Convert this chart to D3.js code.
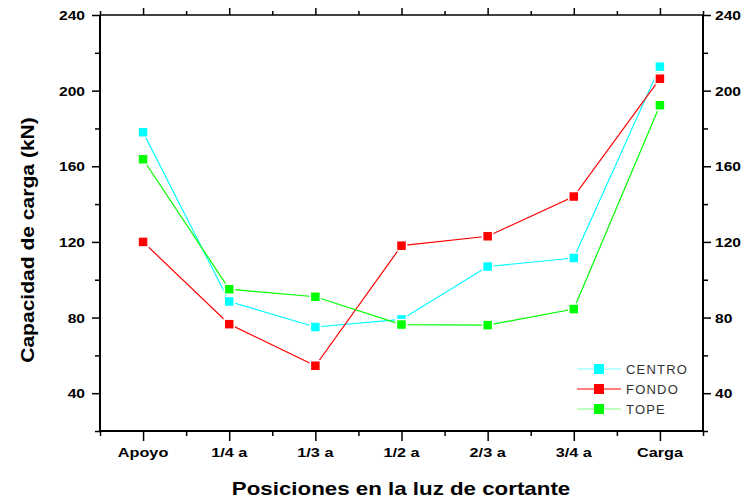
<!DOCTYPE html>
<html><head><meta charset="utf-8">
<script src="https://cdn.jsdelivr.net/npm/d3@7"></script>
<style>body{margin:0;background:#fff}svg{display:block;font-family:"Liberation Sans",Arial,sans-serif}</style>
</head><body><svg id="c" width="747" height="500"></svg>
<script>
const categories = ["Apoyo","1/4 a","1/3 a","1/2 a","2/3 a","3/4 a","Carga"];
const centro = [178, 88.5, 75, 79, 107, 111.5, 212.7];
const fondo  = [120, 76.5, 54.5, 118, 123, 144, 206.3];
const tope   = [163.7, 95, 91, 76.3, 76, 84.5, 192.3];
const yTicks = [40, 80, 120, 160, 200, 240];
const seriesNames = ["CENTRO","FONDO","TOPE"];
const seriesColors = ["#00ffff","#ff0000","#00ff00"];
const legendLineColors = ["#80ffff","#ff0000","#80ff80"];

const svg = d3.select("#c");
const L=100, R=703, T=15, B=431;
const x = d3.scaleLinear().domain([-0.5, 6.5]).range([L, R]);
const y = d3.scaleLinear().domain([20, 240]).range([B, T]);

const majorX = d3.range(0,7), minorX = d3.range(-0.5,7,1);
const minY = d3.range(60, 240, 40).concat([20]);

function axis(gen, tv, size, transform){
  const g = svg.append("g").attr("transform", transform)
    .call(gen.tickValues(tv).tickSize(size).tickFormat(""));
  g.select(".domain").remove();
  g.selectAll(".tick line").attr("stroke","#000").attr("stroke-width",1.5);
  return g;
}
axis(d3.axisBottom(x), majorX, 10, `translate(0,${B})`);
axis(d3.axisBottom(x), minorX, 5, `translate(0,${B})`);
axis(d3.axisTop(x), majorX, 7, `translate(0,${T})`);
axis(d3.axisTop(x), minorX, 4, `translate(0,${T})`);
axis(d3.axisLeft(y), yTicks, 8, `translate(${L},0)`);
axis(d3.axisLeft(y), minY, 5, `translate(${L},0)`);
axis(d3.axisRight(y), yTicks, 8, `translate(${R},0)`);
axis(d3.axisRight(y), minY, 5, `translate(${R},0)`);

svg.append("path").attr("d",`M${L},${T}V${B}H${R}V${T}`).attr("fill","none").attr("stroke","#000").attr("stroke-width",2);
svg.append("line").attr("x1",L).attr("x2",R).attr("y1",T).attr("y2",T).attr("stroke","#000").attr("stroke-width",1.5);

// tick labels (horizontally widened like the reference font)
svg.append("g").selectAll("text").data(categories).join("text")
  .attr("transform",(d,i)=>`translate(${x(i)},457) scale(1.25,1)`).attr("text-anchor","middle")
  .attr("font-size",13).attr("font-weight","bold").text(d=>d);
svg.append("g").selectAll("text").data(yTicks).join("text")
  .attr("transform",d=>`translate(85,${y(d)+5}) scale(1.2,1)`).attr("text-anchor","end")
  .attr("font-size",13).attr("font-weight","bold").text(d=>d);
svg.append("g").selectAll("text").data(yTicks).join("text")
  .attr("transform",d=>`translate(715,${y(d)+5}) scale(1.2,1)`).attr("text-anchor","start")
  .attr("font-size",13).attr("font-weight","bold").text(d=>d);

svg.append("text").attr("transform","translate(401,495) scale(1.24,1)").attr("text-anchor","middle")
  .attr("font-size",18).attr("font-weight","bold").text("Posiciones en la luz de cortante");
svg.append("text").attr("transform","translate(34,240) rotate(-90) scale(1.17,1)").attr("text-anchor","middle")
  .attr("font-size",18).attr("font-weight","bold").text("Capacidad de carga (kN)");

const data = [centro, fondo, tope];
const line = d3.line().x((d,i)=>x(i)).y(d=>y(d));
data.forEach((s,k)=>{
  svg.append("path").datum(s).attr("d",line).attr("fill","none")
    .attr("stroke",seriesColors[k]).attr("stroke-width",1.2);
});
data.forEach((s,k)=>{
  svg.append("g").selectAll("rect").data(s).join("rect")
    .attr("x",(d,i)=>x(i)-5).attr("y",d=>y(d)-5).attr("width",10).attr("height",10)
    .attr("fill",seriesColors[k]).attr("stroke","#fff").attr("stroke-width",1.5);
});

seriesNames.forEach((n,k)=>{
  const yy = 369 + k*20;
  svg.append("line").attr("x1",577).attr("x2",621).attr("y1",yy).attr("y2",yy)
    .attr("stroke",legendLineColors[k]).attr("stroke-width",1.2);
  svg.append("rect").attr("x",594).attr("y",yy-5).attr("width",10).attr("height",10)
    .attr("fill",seriesColors[k]);
  svg.append("text").attr("x",626).attr("y",yy+5).attr("font-size",13)
    .attr("letter-spacing",1.2).attr("fill","#333").text(n);
});
</script></body></html>
